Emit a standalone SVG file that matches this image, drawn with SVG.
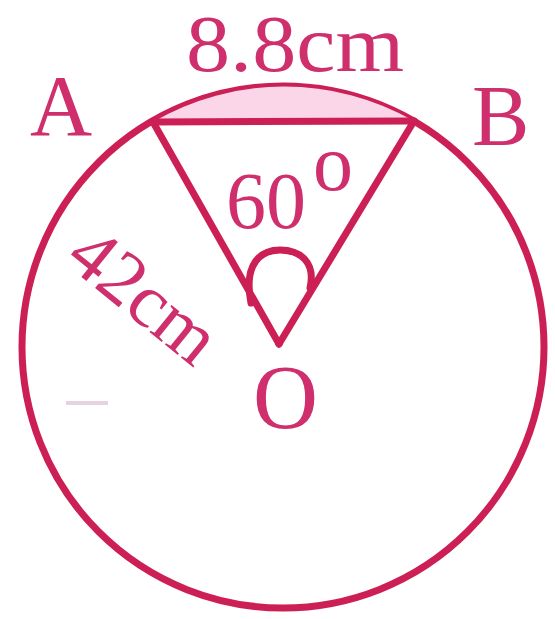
<svg xmlns="http://www.w3.org/2000/svg" width="555" height="619" viewBox="0 0 555 619">
<style>
.ln{fill:none;stroke:#cc1f55;stroke-width:7;stroke-linecap:round;stroke-linejoin:round}
.lb{font-family:"Liberation Serif","Times New Roman",serif;fill:#cf2f6c}
</style>
<rect width="555" height="619" fill="#ffffff"/>
<g id="circle">
<circle class="ln" cx="283" cy="347" r="261"/>
</g>
<g id="segment">
<path d="M153 122 A261 261 0 0 1 414 121 Z" fill="#fbd6e8" stroke="none"/>
</g>
<g id="connectors">
<line class="ln" x1="153" y1="122" x2="414" y2="121"/>
<line class="ln" x1="153" y1="122" x2="279" y2="344"/>
<line class="ln" x1="414" y1="121" x2="279" y2="344"/>
<path class="ln" d="M251 303 C243 262 262 250 280 250 C300 250 316 262 310 288"/>
</g>
<g id="label-A"><text class="lb" x="30" y="135" font-size="86">A</text></g>
<g id="label-B"><text class="lb" x="472" y="145" font-size="86">B</text></g>
<g id="label-O"><text class="lb" x="253" y="428" font-size="90">O</text></g>
<g id="label-chord"><text class="lb" x="186" y="71" font-size="80" textLength="218" lengthAdjust="spacingAndGlyphs">8.8cm</text></g>
<g id="label-angle"><text class="lb" x="226" y="228" font-size="80">60<tspan x="313" y="190" font-size="80">o</tspan></text></g>
<g id="label-radius"><text class="lb" font-size="76" transform="translate(63 262) rotate(39)">42cm</text></g>
<g id="mark"><line x1="66" y1="403" x2="108" y2="403" stroke="#e6d3e2" stroke-width="4"/></g>
</svg>
